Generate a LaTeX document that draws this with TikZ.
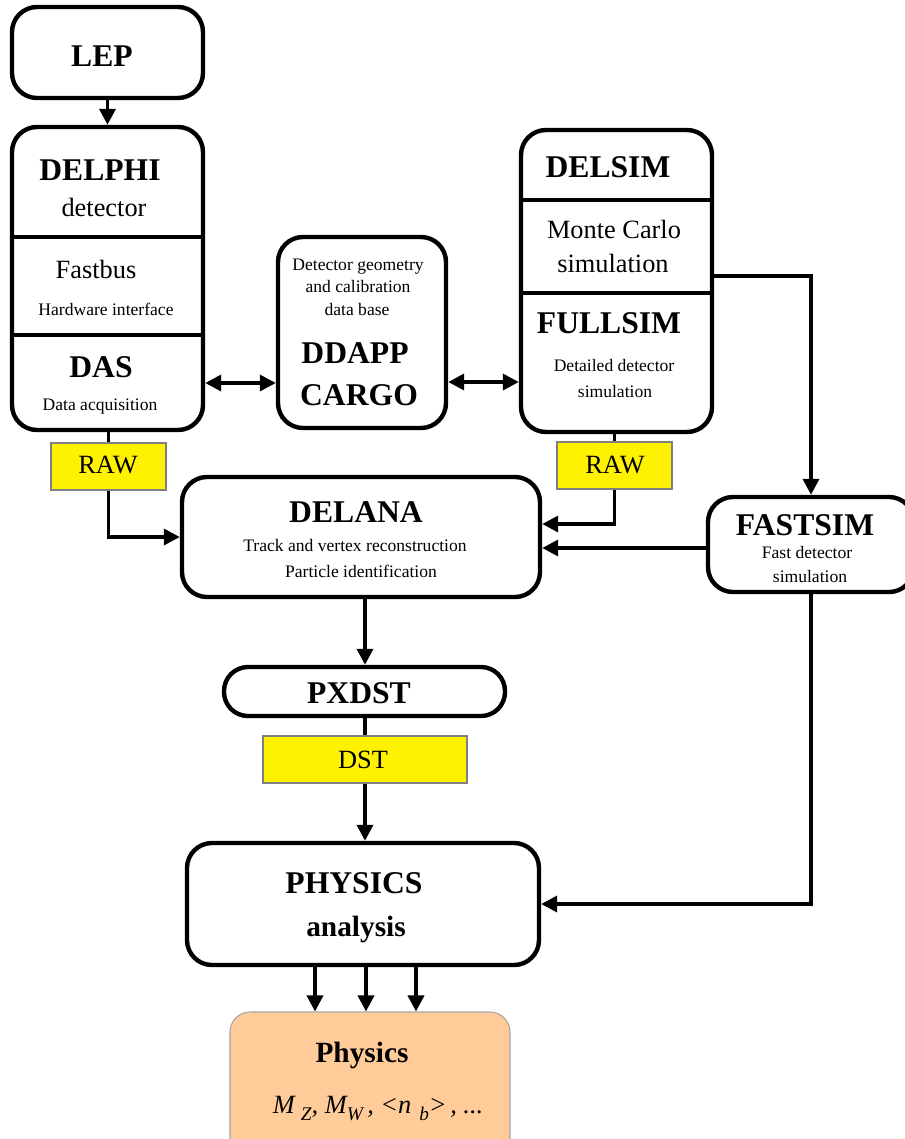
\documentclass[tikz,border=0pt]{standalone}
\usepackage{fontspec}
\setmainfont{Liberation Serif}
\usetikzlibrary{arrows.meta,fit}

\tikzset{
  boxframe/.style={draw, line width=2.5pt, rounded corners=0.5cm, inner sep=0pt},
  tag/.style={draw=gray, fill=yellow, line width=0.6pt, inner sep=0pt},
  wire/.style={line width=2pt},
  link/.style={wire, -{Triangle[length=0.32cm,width=0.32cm]}},
  dlink/.style={wire, {Triangle[length=0.32cm,width=0.32cm]}-{Triangle[length=0.32cm,width=0.32cm]}},
  heading/.style={font=\fontsize{18}{20}\selectfont\bfseries, inner sep=0pt, anchor=base},
  subheading/.style={font=\fontsize{16.7}{19}\selectfont\bfseries, inner sep=0pt, anchor=base},
  bodytext/.style={font=\fontsize{15}{17}\selectfont, inner sep=0pt, anchor=base},
  smalltext/.style={font=\fontsize{10}{12}\selectfont, inner sep=0pt, anchor=base},
}
\newcommand{\lowsub}[1]{\raisebox{-4pt}{\fontsize{11}{12}\selectfont #1}}

\begin{document}
\begin{tikzpicture}[x=0.02cm, y=-0.02cm]
	\useasboundingbox (0,0) rectangle (905,1139);

	\node[boxframe, fit={(12,7) (203,98)}] (lep) {};
	\node[boxframe, fit={(12,127) (203,430)}] (delphi) {};
	\node[boxframe, fit={(278,237) (446,428)}] (ddapp) {};
	\node[boxframe, fit={(521,130) (712,432)}] (delsim) {};
	\node[boxframe, fit={(182,477) (540,597)}] (delana) {};
	\node[boxframe, fit={(708,497) (914,592)}] (fastsim) {};
	\node[boxframe, rounded corners=0.48cm, fit={(224,667) (505,716)}] (pxdst) {};
	\node[boxframe, fit={(187,843) (539,965)}] (physics) {};
	\node[draw=gray!70, line width=0.6pt, fill={rgb,255:red,255;green,204;blue,153},
	  rounded corners=0.4cm, inner sep=0pt, fit={(230,1012) (510,1160)}] (result) {};

	\node[tag, fit={(51,443) (166,490)}] (rawA) {};
	\node[tag, fit={(557,442) (672,489)}] (rawB) {};
	\node[tag, fit={(263,736) (467,783)}] (dst) {};

	\draw[line width=2.5pt] (12,237) -- (203,237);
	\draw[line width=2.5pt] (12,335) -- (203,335);
	\draw[line width=2.5pt] (521,200) -- (712,200);
	\draw[line width=2.5pt] (521,293) -- (712,293);

	\node[heading] (lepT) at (102,66) {LEP};
	\node[heading] (delphiT) at (100,180) {DELPHI};
	\node[bodytext] (detT) at (104,216) {detector};
	\node[bodytext] (fastbusT) at (96,278) {Fastbus};
	\node[smalltext] (hwT) at (106,315) {Hardware interface};
	\node[heading] (dasT) at (101,377) {DAS};
	\node[smalltext] (daqT) at (100,410) {Data acquisition};

	\node[smalltext] (geoT) at (358,270) {Detector geometry};
	\node[smalltext] (calT) at (358,292) {and calibration};
	\node[smalltext] (dbT) at (357,315) {data base};
	\node[heading] (ddappT) at (355,363) {DDAPP};
	\node[heading] (cargoT) at (359,405) {CARGO};

	\node[heading] (delsimT) at (608,177) {DELSIM};
	\node[bodytext] (mcT) at (614,238) {Monte Carlo};
	\node[bodytext] (simT) at (613,272) {simulation};
	\node[heading] (fullsimT) at (609,333) {FULLSIM};
	\node[smalltext] (detailT) at (614,371) {Detailed detector};
	\node[smalltext] (dsimT) at (615,397) {simulation};

	\node[bodytext] (rawAT) at (108,473) {RAW};
	\node[bodytext] (rawBT) at (615,473) {RAW};

	\node[heading] (delanaT) at (356,522) {DELANA};
	\node[smalltext] (trackT) at (355,551) {Track and vertex reconstruction};
	\node[smalltext] (pidT) at (361,577) {Particle identification};

	\node[heading] (fastsimT) at (805,535) {FASTSIM};
	\node[smalltext] (fastT) at (807,558) {Fast detector};
	\node[smalltext] (fsimT) at (810,582) {simulation};

	\node[heading] (pxdstT) at (359,703) {PXDST};
	\node[bodytext] (dstT) at (363,768) {DST};

	\node[heading] (physicsT) at (354,893) {PHYSICS};
	\node[subheading] (anaT) at (356,936) {analysis};

	\node[subheading] (resT) at (362,1062) {Physics};
	\node[font=\fontsize{15}{17}\selectfont\itshape, inner sep=0pt, anchor=base] (valT) at (378,1113)
	  {M\hspace{3.5pt}\lowsub{Z}, M\lowsub{W}\hspace{2.5pt}, <n\hspace{4.5pt}\lowsub{b}>\hspace{2pt}, ...};

	\coordinate (dbL) at (0,383);
	\coordinate (dbR) at (0,382);
	\coordinate (inA) at ([yshift=0.26cm]delana.east);
	\coordinate (inB) at ([yshift=-0.22cm]delana.east);
	\coordinate (mcOut) at ([yshift=0.1cm]delsim.east);

	\draw[link] (lep) -- (delphi);
	\draw[wire] (rawA.north |- delphi.south) -- (rawA.north);
	\draw[link] (rawA.south) |- (delana.west);
	\draw[wire] (rawB.north |- delsim.south) -- (rawB.north);
	\draw[link] (rawB.south) |- (inA);
	\draw[link] (inB -| fastsim.west) -- (inB);
	\draw[dlink] (delphi.east |- dbL) -- (ddapp.west |- dbL);
	\draw[dlink] (ddapp.east |- dbR) -- (delsim.west |- dbR);
	\draw[link] (mcOut) -| (fastsim.north);
	\draw[link] (dst.north |- delana.south) -- (dst.north |- pxdst.north);
	\draw[wire] (dst.north |- pxdst.south) -- (dst.north);
	\draw[link] (dst.south) -- (dst.south |- physics.north);
	\draw[link] (fastsim.south) |- (physics.east);
	\foreach \d in {-0.96,0.06,1.06}
	  \draw[link] ([xshift=\d cm]physics.south) -- ([xshift=\d cm]physics.south |- result.north);
\end{tikzpicture}
\end{document}
